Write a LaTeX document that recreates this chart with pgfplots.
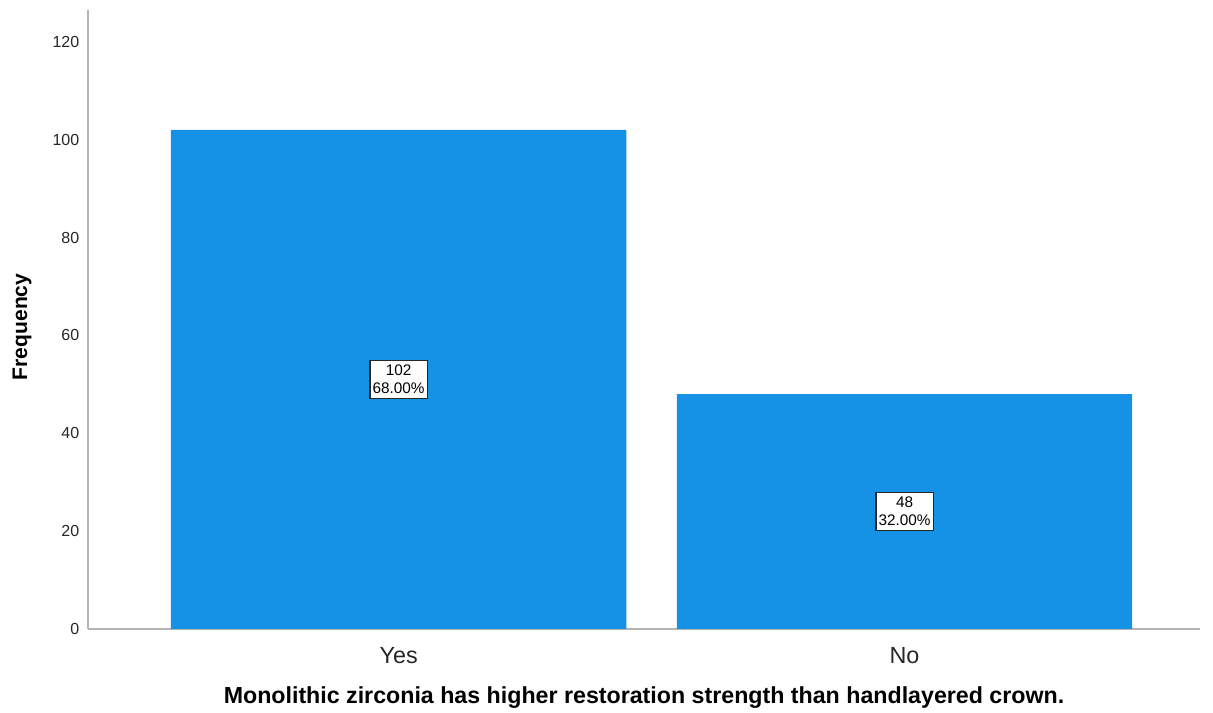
\documentclass[border=0pt]{standalone}
\usepackage{pgfplots}
\pgfplotsset{compat=1.18}
\usepackage{fontspec}
\setmainfont{Liberation Sans}
\definecolor{barblue}{RGB}{21,145,230}
\definecolor{axgray}{RGB}{180,180,180}
\begin{document}
\begin{tikzpicture}
\path[use as bounding box] (-66pt,-63pt) rectangle (843.75pt,471.75pt);
\begin{axis}[
  at={(0,0)}, anchor=south west,
  scale only axis,
  width=834pt, height=464.25pt,
  xmin=-0.614, xmax=1.584,
  ymin=0, ymax=126.5,
  axis x line=bottom, axis y line=left,
  axis line style={axgray, line width=1.1pt, -},
  major tick length=0pt,
  xtick={0,1}, xticklabels={Yes,No},
  ytick={0,20,40,60,80,100,120},
  /pgf/number format/assume math mode=true,
  xticklabel style={font=\fontsize{17.5}{20}\selectfont, color=black!85, yshift=-10pt},
  yticklabel style={font=\fontsize{12}{14}\selectfont, color=black!85, xshift=-3pt},
  xlabel={\textbf{Monolithic zirconia has higher restoration strength than handlayered crown.}},
  xlabel style={font=\fontsize{17.4}{20}\selectfont, at={(axis description cs:0.5,0)}, anchor=center, yshift=-51.5pt},
  ylabel={\textbf{Frequency}},
  ylabel style={font=\fontsize{15.8}{18}\selectfont, at={(axis description cs:-0.0594,0.488)}, anchor=center},
  clip=false,
]
\addplot[ybar, bar width=0.9, fill=barblue, draw=none] coordinates {(0,102) (1,48)};
\node[draw=black!85, line width=1pt, fill=white, align=center, inner xsep=2pt, inner ysep=3.5pt,
  font=\fontsize{11.5}{13.5}\selectfont] at (axis cs:0,51) {102\\68.00\%};
\node[draw=black!85, line width=1pt, fill=white, align=center, inner xsep=2pt, inner ysep=3.5pt,
  font=\fontsize{11.5}{13.5}\selectfont] at (axis cs:1,24) {48\\32.00\%};
\end{axis}
\end{tikzpicture}
\end{document}
